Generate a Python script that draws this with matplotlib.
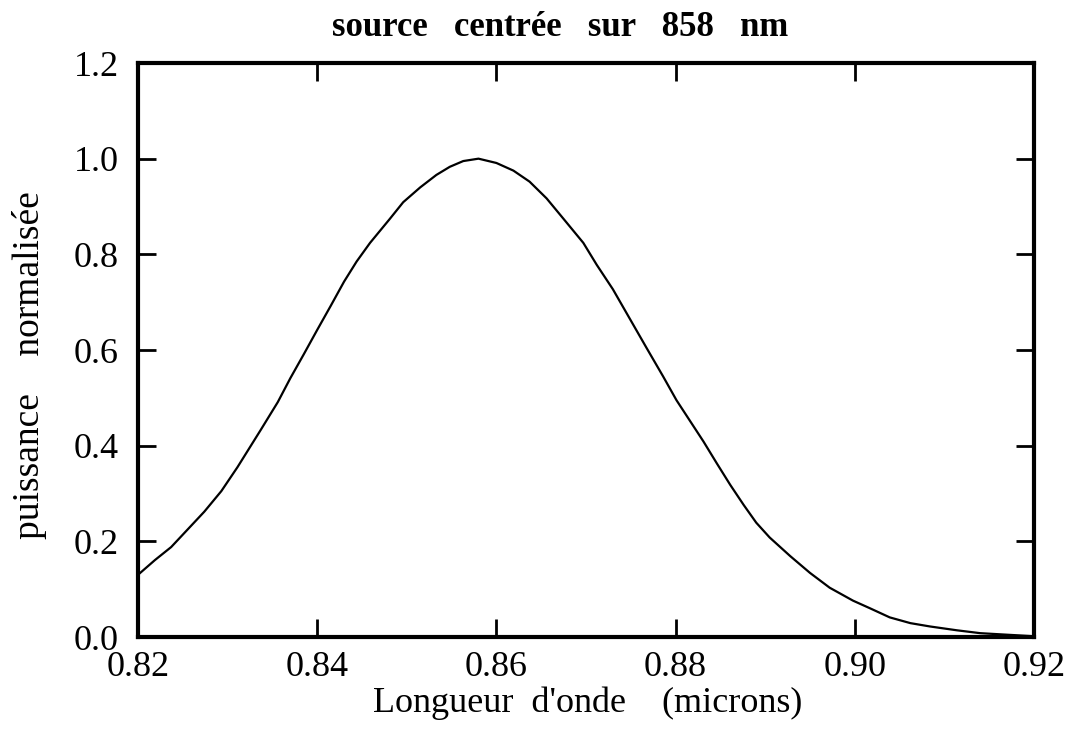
import matplotlib
matplotlib.use("Agg")
import matplotlib.pyplot as plt

wavelength = [0.8200, 0.8219, 0.8237, 0.8256, 0.8274, 0.8293, 0.8311, 0.8337,
              0.8356, 0.8370, 0.8385, 0.8400, 0.8415, 0.8430, 0.8444, 0.8459,
              0.8481, 0.8496, 0.8515, 0.8533, 0.8548, 0.8563, 0.8580, 0.8600,
              0.8619, 0.8637, 0.8656, 0.8675, 0.8697, 0.8712, 0.8730, 0.8749,
              0.8768, 0.8786, 0.8801, 0.8831, 0.8846, 0.8861, 0.8876, 0.8890,
              0.8905, 0.8928, 0.8950, 0.8972, 0.8998, 0.9017, 0.9039, 0.9062,
              0.9084, 0.9114, 0.9140, 0.9196]
power = [0.130, 0.161, 0.188, 0.226, 0.262, 0.305, 0.355, 0.433,
         0.491, 0.541, 0.591, 0.642, 0.692, 0.743, 0.785, 0.824,
         0.874, 0.909, 0.940, 0.966, 0.983, 0.995, 1.000, 0.991,
         0.975, 0.952, 0.917, 0.874, 0.824, 0.778, 0.727, 0.665,
         0.603, 0.545, 0.495, 0.409, 0.363, 0.318, 0.276, 0.239,
         0.208, 0.169, 0.134, 0.103, 0.076, 0.060, 0.041, 0.029,
         0.022, 0.014, 0.008, 0.002]

x_ticks = [0.82, 0.84, 0.86, 0.88, 0.90, 0.92]
x_ticklabels = ["0.82", "0.84", "0.86", "0.88", "0.90", "0.92"]
y_ticks = [0.0, 0.2, 0.4, 0.6, 0.8, 1.0, 1.2]
y_ticklabels = ["0.0", "0.2", "0.4", "0.6", "0.8", "1.0", "1.2"]

title = "source   centrée   sur   858   nm"
xlabel = "Longueur  d'onde    (microns)"
ylabel = "puissance    normalisée"

plt.rcParams['font.family'] = ['Liberation Serif', 'DejaVu Serif']

fig = plt.figure(figsize=(10.83, 7.33), dpi=100)
ax = fig.add_axes([138/1083, 1 - 637/733, (1034-138)/1083, (637-63)/733])

ax.plot(wavelength, power, color='black', lw=1.6)
ax.set_xlim(0.82, 0.92)
ax.set_ylim(0.0, 1.2)

ax.set_xticks(x_ticks)
ax.set_xticklabels(x_ticklabels, fontsize=26)
ax.set_yticks(y_ticks)
ax.set_yticklabels(y_ticklabels, fontsize=26)
ax.tick_params(axis='both', direction='in', length=13, width=2, top=True, right=True, color='black')
ax.tick_params(axis='x', pad=10)
ax.tick_params(axis='y', pad=14)

for s in ax.spines.values():
    s.set_linewidth(3)
    s.set_color('black')

fig.text(560/1083, 1 - 27/733, title, fontsize=25, fontweight='bold', ha='center', va='center')
fig.text(588/1083, 1 - 703/733, xlabel, fontsize=26, ha='center', va='center')
fig.text(30/1083, 1 - 365/733, ylabel, fontsize=27, ha='center', va='center', rotation=90)

fig.savefig("out.png", dpi=100, facecolor='white')
